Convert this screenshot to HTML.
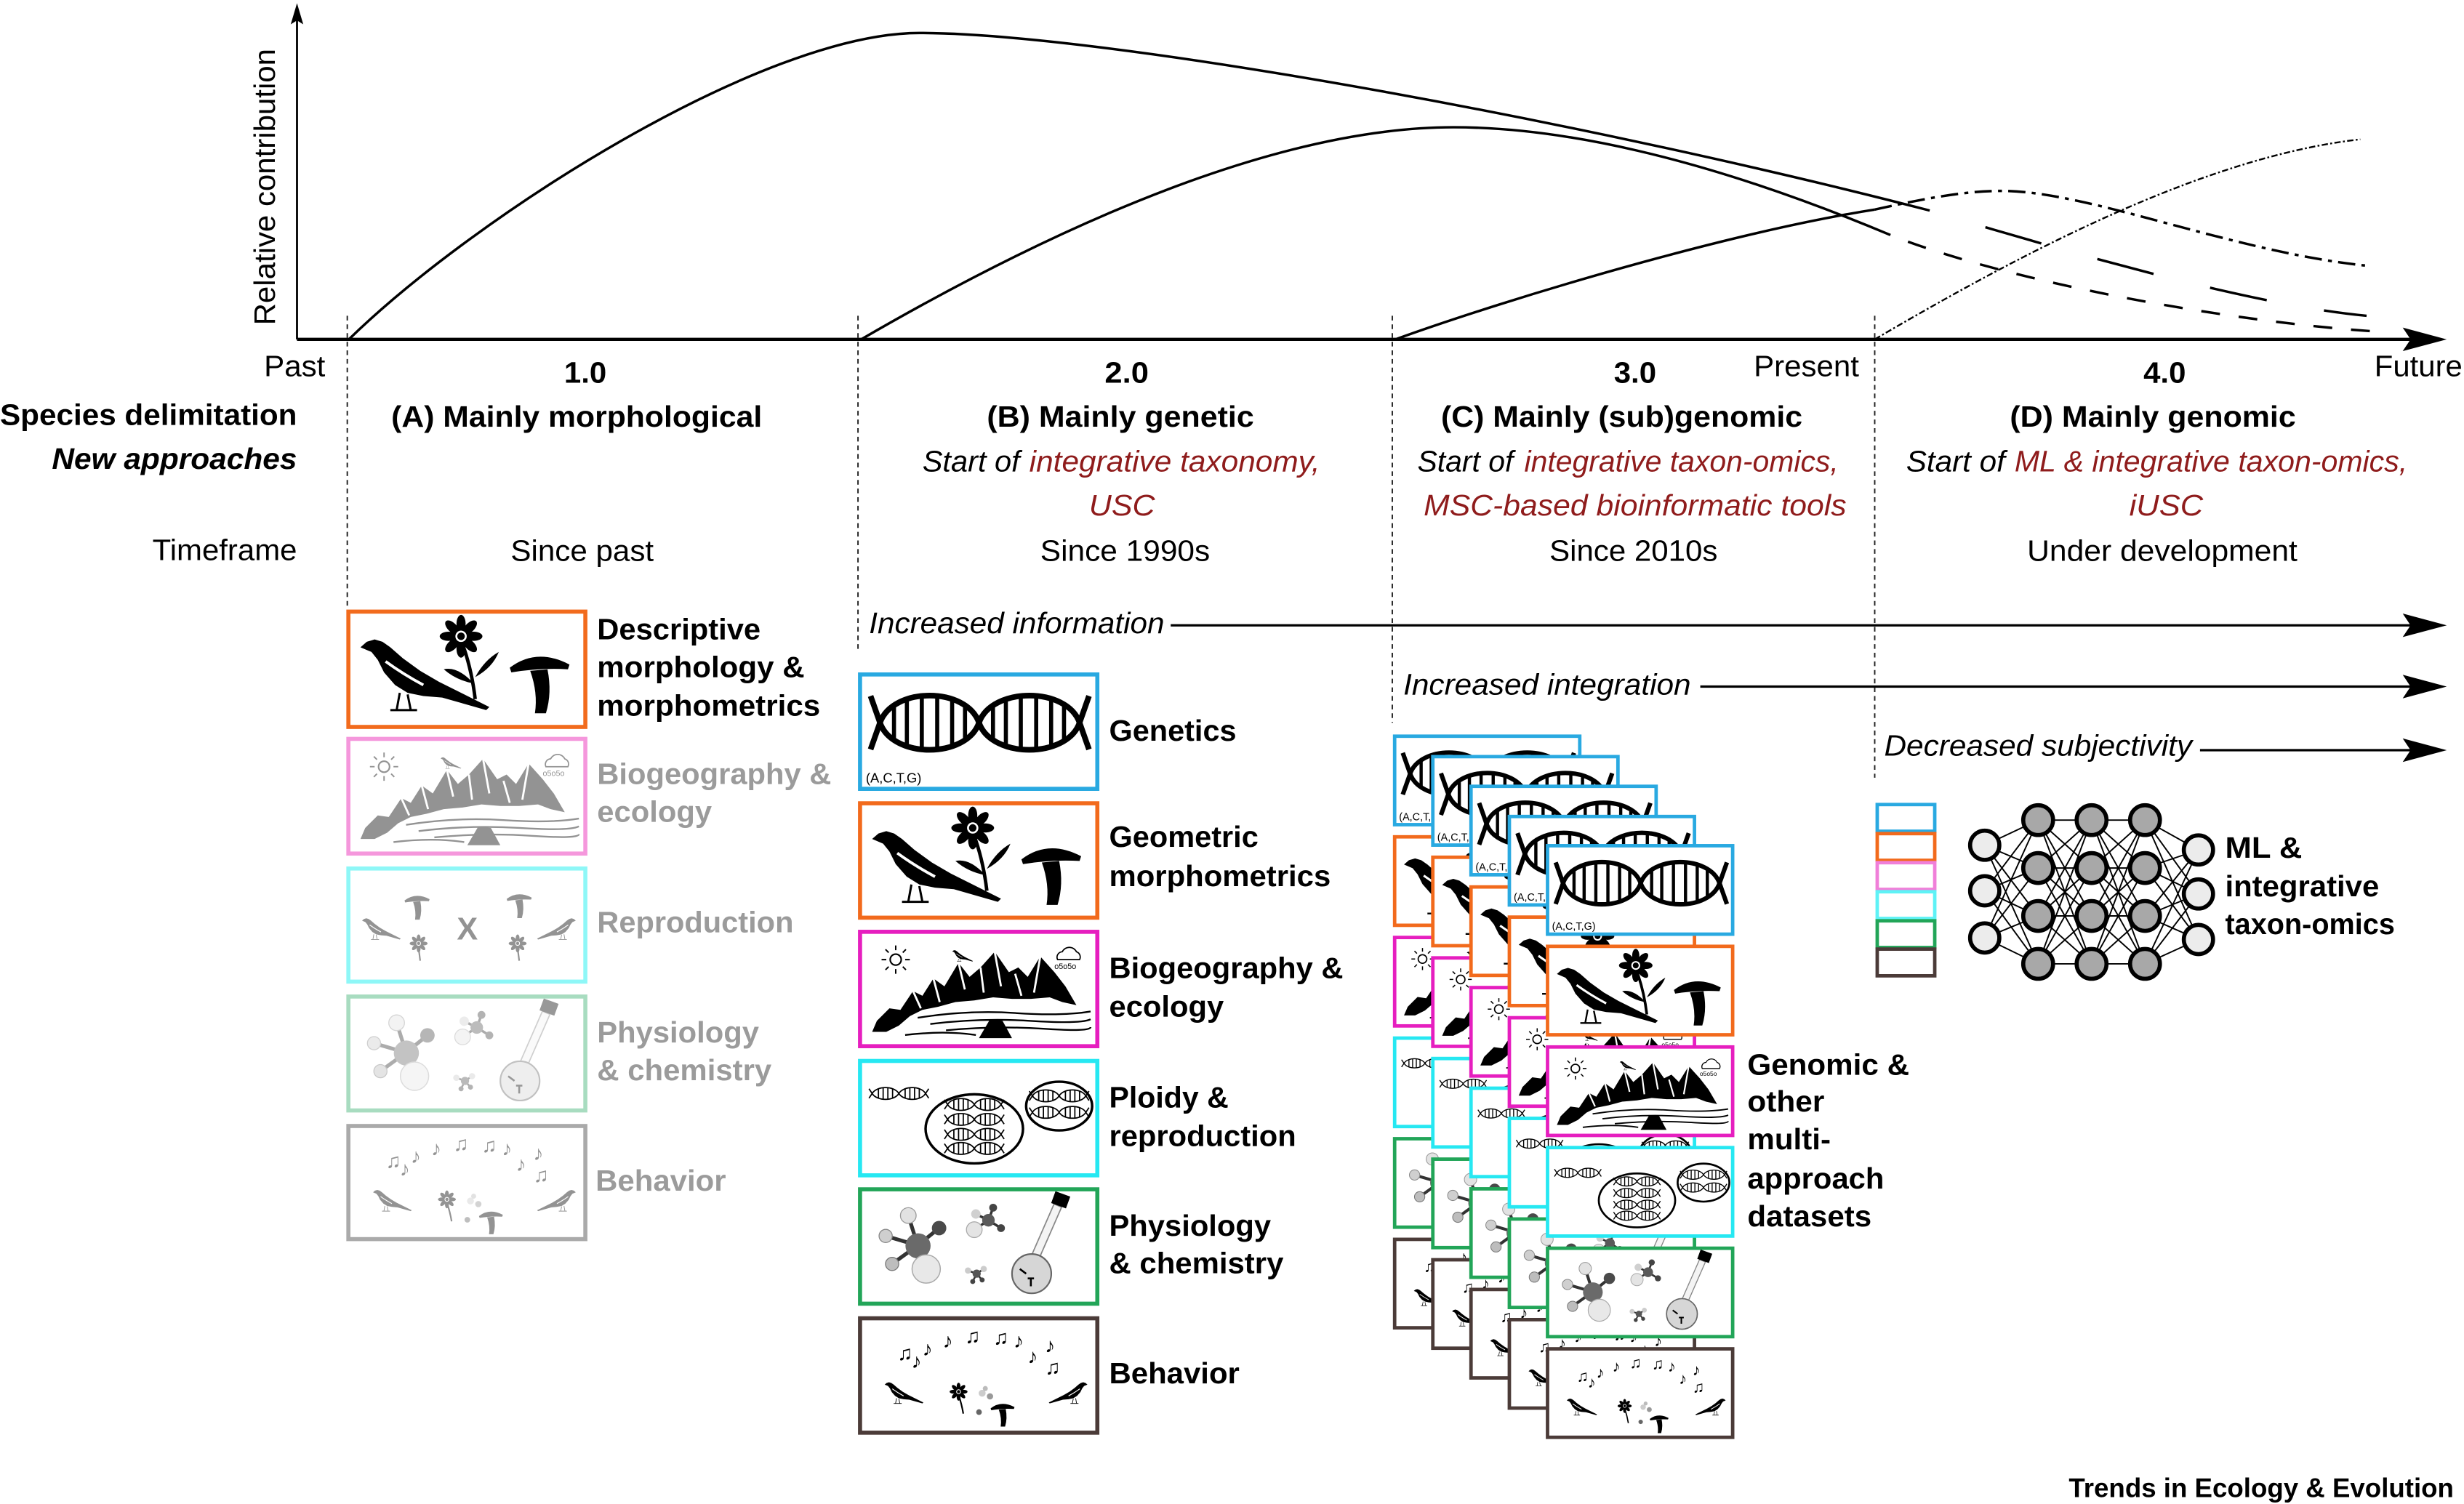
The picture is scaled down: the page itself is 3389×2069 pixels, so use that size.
<!DOCTYPE html>
<html>
<head>
<meta charset="utf-8">
<style>
html,body{margin:0;padding:0;background:#fff;overflow:hidden;}
svg{display:block;}
text{font-family:"Liberation Sans",Arial,sans-serif;}
.r{font-size:19px;}
.b{font-size:19px;font-weight:bold;}
.it{font-size:19px;font-style:italic;}
.bi{font-size:19px;font-weight:bold;font-style:italic;}
.red{fill:#8f1c1c;}
.g{fill:#9b9b9b;}
</style>
</head>
<body>
<svg xmlns="http://www.w3.org/2000/svg" width="3389" height="2069" viewBox="0 0 1568 957.3" preserveAspectRatio="none">
<defs>
  <g id="bird">
    <path d="M0,5 L4,1.5 L9,0 L14,1.5 L19,5 L27,12 L38,20 L50,27 L82,43 L80,45 L52,37 L40,36 L30,34 L22,29 L15,21 L11,13 L7,8 Z"/>
    <path d="M25,34 L23,45 M30,35 L32,45 M19,45 L36,45" fill="none" stroke="#000" stroke-width="1.4"/>
    <path d="M16,14 Q27,22 40,29" fill="none" stroke="#fff" stroke-width="1.8"/>
  </g>
  <g id="flower">
    <ellipse cx="0" cy="-8" rx="2.9" ry="5.6"/>
    <ellipse cx="0" cy="-8" rx="2.9" ry="5.6" transform="rotate(45)"/>
    <ellipse cx="0" cy="-8" rx="2.9" ry="5.6" transform="rotate(90)"/>
    <ellipse cx="0" cy="-8" rx="2.9" ry="5.6" transform="rotate(135)"/>
    <ellipse cx="0" cy="-8" rx="2.9" ry="5.6" transform="rotate(180)"/>
    <ellipse cx="0" cy="-8" rx="2.9" ry="5.6" transform="rotate(225)"/>
    <ellipse cx="0" cy="-8" rx="2.9" ry="5.6" transform="rotate(270)"/>
    <ellipse cx="0" cy="-8" rx="2.9" ry="5.6" transform="rotate(315)"/>
    <circle r="3.6" fill="#fff"/>
    <circle r="2.4"/>
  </g>
  <g id="mush">
    <path d="M-19,4 Q-2,-9 19,2 L18,5 Q0,4 -18,7 Z"/>
    <path d="M-6,6 L5,5 Q8,20 4,33 L-3,33 Q-1,20 -6,6 Z"/>
  </g>
  <g id="i-morph">
    <use href="#bird" x="9" y="19"/>
    <use href="#flower" x="73" y="17"/>
    <path d="M75,25 Q80,40 82,57" fill="none" stroke="#000" stroke-width="2.2"/>
    <path d="M81,47 Q71,36 62,38 Q70,45 81,47 Z"/>
    <path d="M82,43 Q88,32 97,27 Q93,37 82,43 Z"/>
    <use href="#mush" x="123" y="33"/>
  </g>
  <g id="i-dna">
    <g fill="none" stroke="#000">
      <path stroke-width="3.6" d="M8,15 L14,32 C22,55 69,55 77,32 C85,9 133,9 141,32 L147,49"/>
      <path stroke-width="3.6" d="M8,49 L14,32 C22,9 69,9 77,32 C85,55 133,55 141,32 L147,15"/>
      <path stroke-width="2.6" d="M22.9,21 V43 M31.1,17 V47 M40.6,15 V49 M50.4,15 V49 M59.9,17 V47 M68.1,21 V43 M85.9,21 V43 M94.1,17 V47 M103.6,15 V49 M113.4,15 V49 M122.9,17 V47 M131.1,21 V43"/>
    </g>
    <text x="5" y="70" font-size="8.5" fill="#000">(A,C,T,G)</text>
  </g>
  <g id="i-land">
    <circle cx="24" cy="19" r="3.5" fill="none" stroke="#000" stroke-width="1"/>
    <path d="M24,13v-3M24,25v3M18,19h-3M30,19h3M19.5,14.5l-2,-2M28.5,14.5l2,-2M19.5,23.5l-2,2M28.5,23.5l2,2" stroke="#000" stroke-width="0.9"/>
    <path d="M127,19 a3.5,3.5 0 0 1 3,-5 a5,5 0 0 1 9,0 a3.5,3.5 0 0 1 2,5 z" fill="none" stroke="#000" stroke-width="0.8"/>
    <text x="125" y="25" font-size="5" fill="#000">o5o5o</text>
    <path fill="#000" d="M12,58 L20,50 L27,51 L35,39 L41,42 L48,31 L55,36 L64,21 L71,30 L78,24 L87,14 L96,27 L102,24 L108,30 L116,17 L125,27 L132,36 L139,48 L130,46 L122,43 L110,44 L98,44 L86,43 L74,45 L62,46 L51,49 L41,51 L33,55 L26,61 L18,65 L9,65 Z"/>
    <path d="M64,21 L68,38 M87,14 L91,36 M116,17 L112,40 M48,31 L52,46 M78,24 L80,40 M100,28 L104,42 M35,39 L40,50" stroke="#fff" stroke-width="1.3" fill="none"/>
    <path d="M38,56 Q70,51 100,53 T148,52 M46,60 Q78,56 110,58 T148,57 M56,64 Q88,61 118,63 T148,62 M30,67 Q55,64 75,67" stroke="#000" stroke-width="1.1" fill="none"/>
    <path d="M77,69 L84,57 L92,58 L98,69 Z" fill="#000"/>
    <use href="#bird" transform="translate(60,13) scale(0.16)"/>
  </g>
  <g id="mdna" fill="none" stroke="#000" stroke-width="0.8">
    <path d="M-2,-3 L0,0 C3,-5 14,-5 17,0 C20,5 31,5 34,0 L36,-3"/>
    <path d="M-2,3 L0,0 C3,5 14,5 17,0 C20,-5 31,-5 34,0 L36,3"/>
    <path d="M4,-3.2V3.2M7,-3.6V3.6M10,-3.6V3.6M13,-3.2V3.2M21,-3.2V3.2M24,-3.6V3.6M27,-3.6V3.6M30,-3.2V3.2"/>
  </g>
  <g id="i-ploidy">
    <use href="#mdna" x="9" y="22"/>
    <ellipse cx="74" cy="44.5" rx="31" ry="22" fill="none" stroke="#000" stroke-width="1.6"/>
    <use href="#mdna" x="57" y="29"/>
    <use href="#mdna" x="57" y="38.5"/>
    <use href="#mdna" x="57" y="48"/>
    <use href="#mdna" x="57" y="57"/>
    <ellipse cx="128" cy="30" rx="21" ry="15.5" fill="none" stroke="#000" stroke-width="1.6"/>
    <use href="#mdna" x="111" y="23.5"/>
    <use href="#mdna" x="111" y="34"/>
  </g>
  <g id="i-chem">
    <path d="M38,37 L32,18 M38,37 L17.6,31 M38,37 L21.7,48.8 M38,37 L51.6,26 M38,37 L43.4,52" stroke="#333" stroke-width="2.4"/>
    <circle cx="32" cy="18" r="5" fill="#e2e2e2" stroke="#999" stroke-width="0.6"/>
    <circle cx="17.6" cy="31" r="4.2" fill="#cfcfcf" stroke="#888" stroke-width="0.6"/>
    <circle cx="21.7" cy="48.8" r="4.2" fill="#bdbdbd" stroke="#777" stroke-width="0.6"/>
    <circle cx="51.6" cy="26" r="4.6" fill="#4a4a4a"/>
    <circle cx="38.2" cy="37.3" r="8" fill="#6a6a6a"/>
    <circle cx="43.4" cy="52" r="9" fill="#e8e8e8" stroke="#aaa" stroke-width="0.7"/>
    <path d="M83,21 L75,17 M83,21 L86,13 M83,21 L91,26 M83,21 L74,27" stroke="#333" stroke-width="1.6"/>
    <circle cx="75" cy="17" r="3" fill="#d0d0d0"/>
    <circle cx="86" cy="13" r="2.5" fill="#444"/>
    <circle cx="91" cy="26" r="2.5" fill="#444"/>
    <circle cx="83" cy="21" r="4" fill="#5a5a5a"/>
    <circle cx="74" cy="27" r="5" fill="#e4e4e4" stroke="#aaa" stroke-width="0.6"/>
    <path d="M75.5,55 L70,53 M75.5,55 L80,52 M75.5,55 L73,60 M75.5,55 L79,59" stroke="#333" stroke-width="1.2"/>
    <circle cx="70" cy="53" r="2" fill="#ccc"/><circle cx="80" cy="52" r="2" fill="#ccc"/>
    <circle cx="73" cy="60" r="1.6" fill="#444"/><circle cx="79" cy="59" r="1.6" fill="#444"/>
    <circle cx="75.5" cy="55" r="2.6" fill="#555"/>
    <path d="M113,44 L127,12" stroke="#888" stroke-width="6" stroke-linecap="round"/>
    <path d="M113,44 L127,12" stroke="#f4f4f4" stroke-width="4.4"/>
    <circle cx="110.5" cy="55" r="12.5" fill="#d6d6d6" stroke="#666" stroke-width="1"/>
    <rect x="124" y="4" width="10" height="8" fill="#000" transform="rotate(20 129 8)"/>
    <path d="M103,52 l4,3 M108,58 h4 M110,58 v5" stroke="#000" stroke-width="1.2"/>
  </g>
  <g id="i-beh">
    <g font-family="DejaVu Sans" font-size="13" font-weight="bold" fill="#000">
      <text x="25" y="28">♫</text><text x="34" y="33">♪</text><text x="41" y="25">♪</text>
      <text x="54" y="20">♪</text><text x="68" y="17">♫</text><text x="86" y="18">♫</text>
      <text x="99" y="20">♪</text><text x="108" y="30">♪</text><text x="119" y="23">♪</text>
      <text x="119" y="37">♫</text>
    </g>
    <use href="#bird" transform="translate(17,42) scale(0.3)"/>
    <use href="#bird" transform="translate(146,42) scale(-0.3,0.3)"/>
    <use href="#flower" transform="translate(64,48) scale(0.42)"/>
    <path d="M64,50 Q66,56 67,62" stroke="#000" fill="none" stroke-width="1"/>
    <circle cx="79" cy="49" r="2.2" fill="#ccc"/><circle cx="84" cy="51" r="2" fill="#999"/>
    <circle cx="81" cy="46" r="1.6" fill="#bbb"/>
    <use href="#mush" transform="translate(92,57) scale(0.4)"/>
    <circle cx="77" cy="61" r="1.8" fill="#666"/>
  </g>
  <g id="i-repro">
    <use href="#mush" transform="translate(45,20) scale(0.42)"/>
    <use href="#bird" transform="translate(10,33) scale(0.3)"/>
    <use href="#flower" transform="translate(46,49) scale(0.42)"/>
    <path d="M46,52 L47,60" stroke="#000" fill="none" stroke-width="1"/>
    <text x="77" y="46.5" font-size="20" font-weight="bold" text-anchor="middle" fill="#000">X</text>
    <use href="#mush" transform="translate(110,19) scale(0.42)"/>
    <use href="#bird" transform="translate(146,33) scale(-0.3,0.3)"/>
    <use href="#flower" transform="translate(109,49) scale(0.42)"/>
    <path d="M109,52 L110,60" stroke="#000" fill="none" stroke-width="1"/>
  </g>
  <g id="stack">
    <g><rect x="1.1" y="1.1" width="117.8" height="56.3" fill="#fff" stroke="#29a9e1" stroke-width="2.2"/><use href="#i-dna" transform="scale(0.784,0.78)"/></g>
    <g transform="translate(0,64.05)"><rect x="1.1" y="1.1" width="117.8" height="56.3" fill="#fff" stroke="#f26a1c" stroke-width="2.2"/><use href="#i-morph" transform="scale(0.784,0.78)"/></g>
    <g transform="translate(0,128.1)"><rect x="1.1" y="1.1" width="117.8" height="56.3" fill="#fff" stroke="#e61ebf" stroke-width="2.2"/><use href="#i-land" transform="scale(0.784,0.78)"/></g>
    <g transform="translate(0,192.15)"><rect x="1.1" y="1.1" width="117.8" height="56.3" fill="#fff" stroke="#26e8f2" stroke-width="2.2"/><use href="#i-ploidy" transform="scale(0.784,0.78)"/></g>
    <g transform="translate(0,256.2)"><rect x="1.1" y="1.1" width="117.8" height="56.3" fill="#fff" stroke="#22a558" stroke-width="2.2"/><use href="#i-chem" transform="scale(0.784,0.78)"/></g>
    <g transform="translate(0,320.25)"><rect x="1.1" y="1.1" width="117.8" height="56.3" fill="#fff" stroke="#4b3b38" stroke-width="2.2"/><use href="#i-beh" transform="scale(0.784,0.78)"/></g>
  </g>
</defs>

<rect x="0" y="0" width="1568" height="957.3" fill="#fff"/>

<g stroke="#222" stroke-width="0.9" stroke-dasharray="3 2.5">
  <path d="M221,201 V387"/>
  <path d="M546,201 V413"/>
  <path d="M886,201 V460"/>
  <path d="M1193,201 V495"/>
</g>

<path d="M189,216 V12" stroke="#000" stroke-width="1.3"/>
<polygon points="189,2 185,15.5 189,13 193,15.5" fill="#000"/>
<path d="M189,216 H1535" stroke="#000" stroke-width="2"/>
<polygon points="1557,216 1529,208.5 1534,216 1529,223.5" fill="#000"/>
<text class="r" transform="translate(175,207) rotate(-90)" textLength="176" lengthAdjust="spacingAndGlyphs">Relative contribution</text>

<g fill="none" stroke="#000" stroke-width="1.6">
  <path d="M222,216 C302,138 485,21 585,21 C700,21 1000,75 1228,134"/>
  <path d="M1228,134 C1330,165 1440,195 1506,201" stroke-dasharray="37 37" stroke-dashoffset="37"/>
  <path d="M548,216 C678,140.6 815,81 925,81 C990,81 1080,98 1203,149.6"/>
  <path d="M1203,149.6 C1280,180 1420,205 1512,211" stroke-dasharray="12 12" stroke-dashoffset="12"/>
  <path d="M888,216 C960,190 1100,148 1193,133.4"/>
  <path d="M1193,133.4 C1235,124 1255,121.5 1275,121.5 C1330,122 1420,160 1505,169" stroke-dasharray="11 4 2.5 4"/>
  <path d="M1193,216 C1280,165 1400,100 1502,88.7" stroke-width="1.1" stroke-dasharray="4 1.5 1.2 1.5"/>
</g>

<text class="r" x="168" y="239.5" textLength="39" lengthAdjust="spacingAndGlyphs">Past</text>
<text class="b" x="359" y="243.5" textLength="27" lengthAdjust="spacingAndGlyphs">1.0</text>
<text class="b" x="703" y="243.5" textLength="28" lengthAdjust="spacingAndGlyphs">2.0</text>
<text class="b" x="1027" y="243.5" textLength="27" lengthAdjust="spacingAndGlyphs">3.0</text>
<text class="r" x="1116" y="239.5" textLength="67" lengthAdjust="spacingAndGlyphs">Present</text>
<text class="b" x="1364" y="243.5" textLength="27" lengthAdjust="spacingAndGlyphs">4.0</text>
<text class="r" x="1511" y="239.5" textLength="56" lengthAdjust="spacingAndGlyphs">Future</text>

<text class="b" x="0" y="270.5" textLength="189" lengthAdjust="spacingAndGlyphs">Species delimitation</text>
<text class="b" x="249" y="271.5" textLength="236" lengthAdjust="spacingAndGlyphs">(A) Mainly morphological</text>
<text class="b" x="628" y="271.5" textLength="170" lengthAdjust="spacingAndGlyphs">(B) Mainly genetic</text>
<text class="b" x="917" y="271.5" textLength="230" lengthAdjust="spacingAndGlyphs">(C) Mainly (sub)genomic</text>
<text class="b" x="1279" y="271.5" textLength="182" lengthAdjust="spacingAndGlyphs">(D) Mainly genomic</text>

<text class="bi" x="33" y="298.5" textLength="156" lengthAdjust="spacingAndGlyphs">New approaches</text>
<text class="it" x="587" y="300" textLength="62" lengthAdjust="spacingAndGlyphs">Start of</text>
<text class="it red" x="655" y="300" textLength="185" lengthAdjust="spacingAndGlyphs">integrative taxonomy,</text>
<text class="it red" x="693" y="328" textLength="42" lengthAdjust="spacingAndGlyphs">USC</text>
<text class="it" x="902" y="300" textLength="61" lengthAdjust="spacingAndGlyphs">Start of</text>
<text class="it red" x="970" y="300" textLength="200" lengthAdjust="spacingAndGlyphs">integrative taxon-omics,</text>
<text class="it red" x="906" y="328" textLength="269" lengthAdjust="spacingAndGlyphs">MSC-based bioinformatic tools</text>
<text class="it" x="1213" y="300" textLength="63" lengthAdjust="spacingAndGlyphs">Start of</text>
<text class="it red" x="1282" y="300" textLength="250" lengthAdjust="spacingAndGlyphs">ML &amp; integrative taxon-omics,</text>
<text class="it red" x="1355" y="328" textLength="47" lengthAdjust="spacingAndGlyphs">iUSC</text>

<text class="r" x="97" y="356.5" textLength="92" lengthAdjust="spacingAndGlyphs">Timeframe</text>
<text class="r" x="325" y="357" textLength="91" lengthAdjust="spacingAndGlyphs">Since past</text>
<text class="r" x="662" y="357" textLength="108" lengthAdjust="spacingAndGlyphs">Since 1990s</text>
<text class="r" x="986" y="357" textLength="107" lengthAdjust="spacingAndGlyphs">Since 2010s</text>
<text class="r" x="1290" y="357" textLength="172" lengthAdjust="spacingAndGlyphs">Under development</text>

<text class="it" x="553" y="403" textLength="188" lengthAdjust="spacingAndGlyphs">Increased information</text>
<path d="M745,398 H1535" stroke="#000" stroke-width="1.5"/>
<polygon points="1557,398 1529,390.5 1534,398 1529,405.5" fill="#000"/>
<text class="it" x="893" y="442" textLength="183" lengthAdjust="spacingAndGlyphs">Increased integration</text>
<path d="M1082,437 H1535" stroke="#000" stroke-width="1.5"/>
<polygon points="1557,437 1529,429.5 1534,437 1529,444.5" fill="#000"/>
<text class="it" x="1199" y="481" textLength="196" lengthAdjust="spacingAndGlyphs">Decreased subjectivity</text>
<path d="M1400,477.5 H1535" stroke="#000" stroke-width="1.5"/>
<polygon points="1557,477.5 1529,470 1534,477.5 1529,485" fill="#000"/>

<g transform="translate(220.4,388)"><rect x="1.3" y="1.3" width="150.8" height="73.4" fill="#fff" stroke="#f26b1d" stroke-width="2.6"/><use href="#i-morph"/></g>
<g transform="translate(220.4,469)"><rect x="1.3" y="1.3" width="150.8" height="73" fill="#fff" stroke="#f597dc" stroke-width="2.6"/><use href="#i-land" opacity="0.42"/></g>
<g transform="translate(220.4,551.5)"><rect x="1.3" y="1.3" width="150.8" height="72" fill="#fff" stroke="#8ef7f7" stroke-width="2.6"/><use href="#i-repro" opacity="0.42"/></g>
<g transform="translate(220.4,633)"><rect x="1.3" y="1.3" width="150.8" height="72.5" fill="#fff" stroke="#a8dcc0" stroke-width="2.6"/><use href="#i-chem" opacity="0.4"/></g>
<g transform="translate(220.4,715.4)"><rect x="1.3" y="1.3" width="150.8" height="72" fill="#fff" stroke="#aaaaaa" stroke-width="2.6"/><use href="#i-beh" opacity="0.42"/></g>

<text class="b" x="380" y="407" textLength="104" lengthAdjust="spacingAndGlyphs">Descriptive</text>
<text class="b" x="380" y="431" textLength="132" lengthAdjust="spacingAndGlyphs">morphology &amp;</text>
<text class="b" x="380" y="455.5" textLength="142" lengthAdjust="spacingAndGlyphs">morphometrics</text>
<text class="b g" x="380" y="499" textLength="149" lengthAdjust="spacingAndGlyphs">Biogeography &amp;</text>
<text class="b g" x="380" y="523" textLength="73" lengthAdjust="spacingAndGlyphs">ecology</text>
<text class="b g" x="380" y="593.5" textLength="125" lengthAdjust="spacingAndGlyphs">Reproduction</text>
<text class="b g" x="380" y="663.5" textLength="103" lengthAdjust="spacingAndGlyphs">Physiology</text>
<text class="b g" x="380" y="687.5" textLength="111" lengthAdjust="spacingAndGlyphs">&amp; chemistry</text>
<text class="b g" x="379" y="758" textLength="83" lengthAdjust="spacingAndGlyphs">Behavior</text>

<g transform="translate(546,428)"><rect x="1.3" y="1.3" width="151" height="72.8" fill="#fff" stroke="#29a9e1" stroke-width="2.6"/><use href="#i-dna"/></g>
<g transform="translate(546,510)"><rect x="1.3" y="1.3" width="151" height="72.8" fill="#fff" stroke="#f26a1c" stroke-width="2.6"/><use href="#i-morph"/></g>
<g transform="translate(546,591.8)"><rect x="1.3" y="1.3" width="151" height="72.8" fill="#fff" stroke="#e61ebf" stroke-width="2.6"/><use href="#i-land"/></g>
<g transform="translate(546,674)"><rect x="1.3" y="1.3" width="151" height="72.8" fill="#fff" stroke="#26e8f2" stroke-width="2.6"/><use href="#i-ploidy"/></g>
<g transform="translate(546,755.7)"><rect x="1.3" y="1.3" width="151" height="72.8" fill="#fff" stroke="#22a558" stroke-width="2.6"/><use href="#i-chem"/></g>
<g transform="translate(546,837.8)"><rect x="1.3" y="1.3" width="151" height="72.8" fill="#fff" stroke="#4b3b38" stroke-width="2.6"/><use href="#i-beh"/></g>

<text class="b" x="705.8" y="471.5" textLength="81" lengthAdjust="spacingAndGlyphs">Genetics</text>
<text class="b" x="705.8" y="539" textLength="95" lengthAdjust="spacingAndGlyphs">Geometric</text>
<text class="b" x="705.8" y="564" textLength="141" lengthAdjust="spacingAndGlyphs">morphometrics</text>
<text class="b" x="705.8" y="622.5" textLength="149" lengthAdjust="spacingAndGlyphs">Biogeography &amp;</text>
<text class="b" x="705.8" y="647" textLength="73" lengthAdjust="spacingAndGlyphs">ecology</text>
<text class="b" x="705.8" y="705" textLength="76" lengthAdjust="spacingAndGlyphs">Ploidy &amp;</text>
<text class="b" x="705.8" y="729.5" textLength="119" lengthAdjust="spacingAndGlyphs">reproduction</text>
<text class="b" x="705.8" y="786.5" textLength="103" lengthAdjust="spacingAndGlyphs">Physiology</text>
<text class="b" x="705.8" y="810.5" textLength="111" lengthAdjust="spacingAndGlyphs">&amp; chemistry</text>
<text class="b" x="705.8" y="880.5" textLength="83" lengthAdjust="spacingAndGlyphs">Behavior</text>

<use href="#stack" x="886.4" y="467.5"/>
<use href="#stack" x="910.7" y="480.5"/>
<use href="#stack" x="935" y="499.4"/>
<use href="#stack" x="959.4" y="518.6"/>
<use href="#stack" x="983.7" y="537.2"/>

<text class="b" x="1112" y="684" textLength="103" lengthAdjust="spacingAndGlyphs">Genomic &amp;</text>
<text class="b" x="1112" y="707.5" textLength="49" lengthAdjust="spacingAndGlyphs">other</text>
<text class="b" x="1112" y="731.5" textLength="53" lengthAdjust="spacingAndGlyphs">multi-</text>
<text class="b" x="1112" y="756.5" textLength="87" lengthAdjust="spacingAndGlyphs">approach</text>
<text class="b" x="1112" y="780.5" textLength="79" lengthAdjust="spacingAndGlyphs">datasets</text>

<g fill="none" stroke-width="2.2">
  <rect x="1194.6" y="512.1" width="36.6" height="17" stroke="#29a9e1"/>
  <rect x="1194.6" y="530.6" width="36.6" height="17" stroke="#f26a1c"/>
  <rect x="1194.6" y="549.1" width="36.6" height="17" stroke="#f07fd9"/>
  <rect x="1194.6" y="567.6" width="36.6" height="17" stroke="#5ef2f6"/>
  <rect x="1194.6" y="586.1" width="36.6" height="17" stroke="#22a558"/>
  <rect x="1194.6" y="604.1" width="36.6" height="17" stroke="#4b3b38"/>
</g>

<g stroke="#000" stroke-width="0.9" fill="none">
  <path d="M1263,538L1297,522M1263,538L1297,552.5M1263,538L1297,583M1263,538L1297,613.5M1263,567L1297,522M1263,567L1297,552.5M1263,567L1297,583M1263,567L1297,613.5M1263,597L1297,522M1263,597L1297,552.5M1263,597L1297,583M1263,597L1297,613.5"/>
  <path d="M1297,522L1331,522M1297,522L1331,552.5M1297,522L1331,583M1297,522L1331,613.5M1297,552.5L1331,522M1297,552.5L1331,552.5M1297,552.5L1331,583M1297,552.5L1331,613.5M1297,583L1331,522M1297,583L1331,552.5M1297,583L1331,583M1297,583L1331,613.5M1297,613.5L1331,522M1297,613.5L1331,552.5M1297,613.5L1331,583M1297,613.5L1331,613.5"/>
  <path d="M1331,522L1365,522M1331,522L1365,552.5M1331,522L1365,583M1331,522L1365,613.5M1331,552.5L1365,522M1331,552.5L1365,552.5M1331,552.5L1365,583M1331,552.5L1365,613.5M1331,583L1365,522M1331,583L1365,552.5M1331,583L1365,583M1331,583L1365,613.5M1331,613.5L1365,522M1331,613.5L1365,552.5M1331,613.5L1365,583M1331,613.5L1365,613.5"/>
  <path d="M1365,522L1399,541M1365,522L1399,569M1365,522L1399,598M1365,552.5L1399,541M1365,552.5L1399,569M1365,552.5L1399,598M1365,583L1399,541M1365,583L1399,569M1365,583L1399,598M1365,613.5L1399,541M1365,613.5L1399,569M1365,613.5L1399,598"/>
</g>
<g stroke="#000" stroke-width="2.6">
  <circle cx="1263" cy="538" r="9.3" fill="#ececec"/>
  <circle cx="1263" cy="567" r="9.3" fill="#ececec"/>
  <circle cx="1263" cy="597" r="9.3" fill="#ececec"/>
  <circle cx="1297" cy="522" r="9.5" fill="#a8a8a8"/>
  <circle cx="1297" cy="552.5" r="9.5" fill="#a8a8a8"/>
  <circle cx="1297" cy="583" r="9.5" fill="#a8a8a8"/>
  <circle cx="1297" cy="613.5" r="9.5" fill="#a8a8a8"/>
  <circle cx="1331" cy="522" r="9.5" fill="#a8a8a8"/>
  <circle cx="1331" cy="552.5" r="9.5" fill="#a8a8a8"/>
  <circle cx="1331" cy="583" r="9.5" fill="#a8a8a8"/>
  <circle cx="1331" cy="613.5" r="9.5" fill="#a8a8a8"/>
  <circle cx="1365" cy="522" r="9.5" fill="#a8a8a8"/>
  <circle cx="1365" cy="552.5" r="9.5" fill="#a8a8a8"/>
  <circle cx="1365" cy="583" r="9.5" fill="#a8a8a8"/>
  <circle cx="1365" cy="613.5" r="9.5" fill="#a8a8a8"/>
  <circle cx="1399" cy="541" r="9.3" fill="#ececec"/>
  <circle cx="1399" cy="569" r="9.3" fill="#ececec"/>
  <circle cx="1399" cy="598" r="9.3" fill="#ececec"/>
</g>
<text class="b" x="1416" y="546" textLength="49" lengthAdjust="spacingAndGlyphs">ML &amp;</text>
<text class="b" x="1416" y="570.5" textLength="98" lengthAdjust="spacingAndGlyphs">integrative</text>
<text class="b" x="1416" y="594.5" textLength="108" lengthAdjust="spacingAndGlyphs">taxon-omics</text>

<text x="1316.5" y="953" font-size="17" font-weight="bold" textLength="245" lengthAdjust="spacingAndGlyphs">Trends in Ecology &amp; Evolution</text>
</svg>
</body>
</html>
